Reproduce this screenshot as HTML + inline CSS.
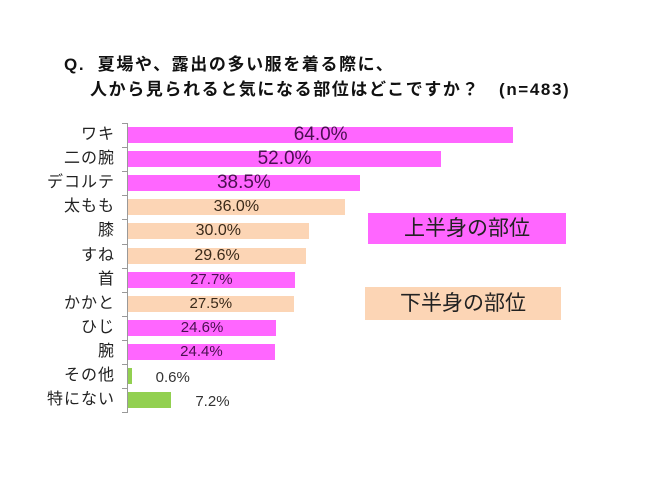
<!DOCTYPE html>
<html><head><meta charset="utf-8"><style>
body{margin:0;background:#fff;width:650px;height:487px;position:relative;overflow:hidden;font-family:"Liberation Sans","Noto Sans CJK JP",sans-serif}
.t{position:absolute;font-weight:bold;font-size:17px;letter-spacing:1.6px;color:#111;white-space:nowrap}
.l{position:absolute;right:535px;font-size:16px;letter-spacing:1px;color:#222;white-space:nowrap;line-height:16px}
.b{position:absolute;left:128px;height:16px}
.v{position:absolute;font-size:15px;line-height:16px;white-space:nowrap;text-align:center}
.tk{position:absolute;left:122px;width:6px;height:1px;background:#999}
</style></head><body>
<div class="t" style="left:64px;top:50px">Q.&nbsp; 夏場や、露出の多い服を着る際に、</div>
<div class="t" style="left:90px;top:75px">人から見られると気になる部位はどこですか？&nbsp;&nbsp; (n=483)</div>
<div style="position:absolute;left:127px;top:123px;width:1px;height:290px;background:#999"></div>
<div id="c"></div>
<div style="position:absolute;left:368px;top:213px;width:198px;height:31px;background:#ff66ff;font-size:21px;line-height:31px;text-align:center;color:#222">上半身の部位</div>
<div style="position:absolute;left:365px;top:287px;width:196px;height:33px;background:#fcd5b5;font-size:21px;line-height:33px;text-align:center;color:#222">下半身の部位</div>
<script>
var d=[["ワキ",64,"p"],["二の腕",52,"p"],["デコルテ",38.5,"p"],["太もも",36,"o"],["膝",30,"o"],["すね",29.6,"o"],["首",27.7,"p"],["かかと",27.5,"o"],["ひじ",24.6,"p"],["腕",24.4,"p"],["その他",0.6,"g"],["特にない",7.2,"g"]];
var h="";
d.forEach(function(r,i){var y=127+i*24.1,w=r[1]*6.02;var c=r[2]=="p"?"#ff66ff":r[2]=="o"?"#fcd5b5":"#92d050";
var tc=r[2]=="p"?"#4a1050":"#3a2a1a";var fs=i<3?19:(i<6?16:15);
h+='<div class="tk" style="top:'+(y-4)+'px"></div>';
h+='<div class="l" style="top:'+y+'px">'+r[0]+'</div>';
h+='<div class="b" style="top:'+y+'px;width:'+w+'px;background:'+c+'"></div>';
var txt=r[1].toFixed(1)+"%";
if(r[2]=="g"){h+='<div class="v" style="left:'+(128+w+24)+'px;top:'+(y+2)+'px;font-size:15px;color:#333">'+txt+'</div>';}
else h+='<div class="v" style="left:128px;width:'+w+'px;top:'+y+'px;font-size:'+fs+'px;color:'+tc+'">'+txt+'</div>';});
h+='<div class="tk" style="top:'+(127+12*24.1-4)+'px"></div>';
document.getElementById("c").innerHTML=h;
</script>
</body></html>
